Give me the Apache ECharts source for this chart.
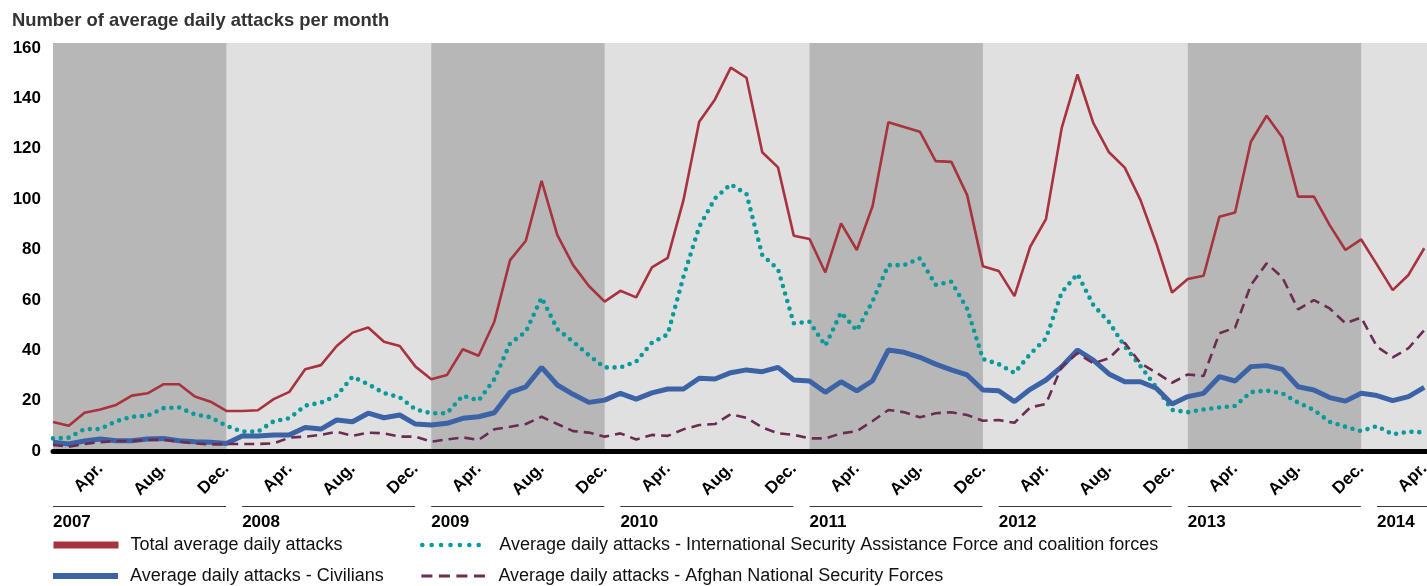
<!DOCTYPE html>
<html>
<head>
<meta charset="utf-8">
<script src="https://cdn.jsdelivr.net/npm/echarts@6/dist/echarts.min.js"></script>
<style>
  html, body { margin: 0; padding: 0; background: #fff; }
  #chart { width: 1427px; height: 586px; }
</style>
</head>
<body>
<div id="chart"></div>
<script>
// ---- Data ----
const titleText = 'Number of average daily attacks per month';
const years = [2007, 2008, 2009, 2010, 2011, 2012, 2013, 2014];
const monthNames = ['Jan', 'Feb', 'Mar', 'Apr', 'May', 'Jun', 'Jul', 'Aug', 'Sep', 'Oct', 'Nov', 'Dec'];
const monthTickLabels = { Apr: 'Apr.', Aug: 'Aug.', Dec: 'Dec.' };
const axisEndMonth = '2014-May';          // axis runs one month past the last data point
const darkBandYears = [2007, 2009, 2011, 2013];
const yTicks = [0, 20, 40, 60, 80, 100, 120, 140, 160];

const seriesNames = [
  'Total average daily attacks',
  'Average daily attacks - International Security Assistance Force and coalition forces',
  'Average daily attacks - Civilians',
  'Average daily attacks - Afghan National Security Forces'
];

// Jan 2007 ... Apr 2014
const totalAttacks = [
  11.5, 10, 15.2, 16.5, 18.3, 22, 22.9, 26.5, 26.5, 21.6, 19.6, 15.9,
  15.9, 16.2, 20.6, 23.5, 32.5, 34.1, 41.7, 47, 49, 43.4, 41.7, 33.5,
  28.5, 30.2, 40.4, 37.8, 51.3, 75.8, 83.5, 107.3, 85.7, 73.8, 65.5, 59.3,
  63.6, 61, 72.9, 76.7, 99.6, 130.7, 139.6, 152.2, 148.2, 118.6, 112.6, 85.5,
  84.2, 70.9, 90.4, 79.8, 97.3, 130.5, 128.6, 126.8, 115.1, 114.8, 101.6, 73.4,
  71.5, 61.5, 81.1, 92.1, 128.3, 149.5, 130.3, 118.6, 112.5, 99.6, 82.4, 62.9,
  68.3, 69.6, 93, 94.7, 122.8, 133.1, 124.5, 101, 101, 89.7, 79.8, 84,
  74, 63.9, 69.9, 80.5
];
const isafAttacks = [
  5, 5.3, 8.7, 8.7, 11.8, 13.6, 14, 17, 17.3, 14.5, 13.4, 10,
  7.7, 7.7, 11.8, 13, 18, 19.2, 22, 29.5, 26.5, 23, 21.3, 16.5,
  15, 15, 22, 20, 28.5, 42.7, 47.4, 60.9, 48.4, 43.4, 38, 33.2,
  33.2, 35.5, 43, 46.3, 69.2, 89, 100.3, 105.9, 102, 77.8, 72.2, 50.7,
  51.3, 41.8, 55, 47.8, 59.5, 73.8, 73.8, 76.5, 66, 67.2, 56.5, 36.5,
  34.5, 31, 38.5, 44.7, 63, 70.3, 58, 51.2, 41.5, 33.7, 25.3, 16.3,
  15.4, 16.5, 17.3, 17.9, 23.4, 24, 22.9, 19.2, 16.3, 11.6, 9.6, 7.9,
  9.9, 6.6, 7.7, 7.4
];
const civilianAttacks = [
  3.5, 2.8, 4, 4.8, 4.1, 4.1, 4.8, 5, 4.1, 3.7, 3.5, 3,
  6, 6, 6.4, 6.4, 9.3, 8.7, 12.3, 11.6, 15, 13.2, 14.3, 10.7,
  10.3, 11, 13, 13.6, 15.2, 23.3, 25.5, 33.2, 26.2, 22.5, 19.3, 20.2,
  22.9, 20.6, 23.1, 24.6, 24.6, 28.9, 28.6, 31.1, 32.2, 31.5, 33.2, 28.2,
  27.8, 23.3, 27.5, 23.9, 27.9, 40.1, 39.2, 37.2, 34.5, 32.2, 30.2, 24.2,
  23.9, 19.6, 24.5, 28.2, 33.5, 40.1, 36.1, 30.6, 27.5, 27.5, 24.9, 18.7,
  21.6, 22.9, 29.5, 27.8, 33.5, 33.9, 32.4, 25.5, 24.2, 21.2, 19.8, 22.9,
  22, 20, 21.6, 25.3
];
const ansfAttacks = [
  2.4, 1.7, 2.8, 3.5, 4, 4, 4.4, 4.4, 3.7, 3, 2.6, 2.8,
  2.8, 2.8, 3, 5.3, 5.7, 6.4, 7.7, 6, 7.3, 7, 5.7, 5.7,
  3.7, 4.6, 5.4, 4.4, 8.6, 9.6, 10.7, 13.6, 10.7, 7.9, 7.3, 5.7,
  7, 4.6, 6.4, 6, 8.6, 10.3, 10.7, 14.6, 13.2, 9.4, 7, 6.4,
  5, 5, 7, 7.9, 11.9, 16.3, 15.4, 13.4, 15, 15.4, 14.3, 12,
  12.3, 11.2, 17.3, 18.7, 33.5, 38.8, 34.8, 36.8, 43, 34.8, 31.1, 27.1,
  30.4, 29.8, 46.7, 49, 65.9, 74.5, 68.9, 56.2, 59.9, 56.6, 50.7, 53,
  41.4, 37.2, 40.8, 48
];

// ---- Build categories ----
const categories = [];
outer:
for (const y of years) {
  for (const m of monthNames) {
    const c = y + '-' + m;
    categories.push(c);
    if (c === axisEndMonth) break outer;
  }
}
const monthOf = c => c.split('-')[1];
const yearOf = c => c.split('-')[0];

const FONT = '"Liberation Sans", Arial, Helvetica, sans-serif';
const C_RED = '#a8323d', C_TEAL = '#089b9b', C_BLUE = '#3b63a6', C_PURPLE = '#6b2c52';

const darkBands = darkBandYears.map(y => [
  { xAxis: y + '-Jan' }, { xAxis: y + '-Dec' }
]);

const chart = echarts.init(document.getElementById('chart'), null, { renderer: 'canvas' });

const legendBase = {
  orient: 'horizontal',
  selectedMode: false,
  padding: 0,
  itemWidth: 65,
  itemHeight: 14,
  itemStyle: { opacity: 0 },
  textStyle: { fontSize: 18, fontFamily: FONT, color: '#111', padding: [0, 0, 0, 7] }
};

chart.setOption({
  animation: false,
  backgroundColor: '#ffffff',
  title: {
    text: titleText,
    left: 12, top: 12, padding: 0,
    textStyle: { fontSize: 18.4, fontWeight: 'bold', fontFamily: FONT, color: '#333' }
  },
  legend: [
    Object.assign({}, legendBase, { data: [seriesNames[0]], left: 50, top: 536, lineStyle: { width: 7 } }),
    Object.assign({}, legendBase, { data: [seriesNames[1]], left: 420, top: 536,
      lineStyle: { width: 4.6, type: [0, 9.4], cap: 'round' } }),
    Object.assign({}, legendBase, { data: [seriesNames[2]], left: 50, top: 567, lineStyle: { width: 6 } }),
    Object.assign({}, legendBase, { data: [seriesNames[3]], left: 420, top: 567,
      lineStyle: { width: 2.8, type: [11, 6.5] } })
  ],
  grid: {
    left: 53, right: -13, top: 43, bottom: 135,
    outerBoundsMode: 'none',
    show: true, backgroundColor: '#e0e0e0', borderWidth: 0
  },
  xAxis: [
    {
      type: 'category', data: categories, boundaryGap: false, position: 'bottom',
      z: 10,
      axisLine: { show: true, lineStyle: { color: '#000', width: 5 } },
      axisTick: { show: false },
      splitLine: { show: false },
      axisLabel: {
        interval: (i, v) => monthTickLabels[monthOf(v)] !== undefined,
        formatter: v => monthTickLabels[monthOf(v)] || '',
        rotate: 45, margin: 15,
        fontSize: 17, fontWeight: 'bold', fontFamily: FONT, color: '#000',
        hideOverlap: false
      }
    },
    {
      type: 'category', data: categories, boundaryGap: false, position: 'bottom', offset: 0,
      axisLine: { show: false }, axisTick: { show: false }, splitLine: { show: false },
      axisLabel: {
        interval: (i, v) => monthOf(v) === 'Jan',
        formatter: v => '{ln|}\n{yr|' + yearOf(v) + '}',
        align: 'left', verticalAlign: 'top', margin: 55,
        hideOverlap: false,
        rich: {
          ln: { width: 173, height: 1, lineHeight: 1, backgroundColor: '#3a3a3a' },
          yr: { fontSize: 17, fontWeight: 'bold', fontFamily: FONT, color: '#000', lineHeight: 30 }
        }
      }
    }
  ],
  yAxis: {
    type: 'value', min: 0, max: 162, interval: 20,
    axisLine: { show: false }, axisTick: { show: false }, splitLine: { show: false },
    axisLabel: {
      margin: 12, fontSize: 17, fontWeight: 'bold', fontFamily: FONT, color: '#000',
      showMaxLabel: false,
      formatter: v => (yTicks.indexOf(v) >= 0 ? String(v) : '')
    }
  },
  series: [
    {
      name: seriesNames[0], type: 'line', data: totalAttacks,
      symbol: 'none', z: 3,
      lineStyle: { color: C_RED, width: 2.6 },
      itemStyle: { color: C_RED },
      markArea: {
        silent: true,
        z: 1,
        itemStyle: { color: '#b7b7b7', opacity: 1 },
        data: darkBands
      }
    },
    {
      name: seriesNames[1], type: 'line', data: isafAttacks,
      symbol: 'none', z: 4,
      lineStyle: { color: C_TEAL, width: 4.6, type: [0, 7.8], cap: 'round' },
      itemStyle: { color: C_TEAL }
    },
    {
      name: seriesNames[2], type: 'line', data: civilianAttacks,
      symbol: 'none', z: 5,
      lineStyle: { color: C_BLUE, width: 5 },
      itemStyle: { color: C_BLUE }
    },
    {
      name: seriesNames[3], type: 'line', data: ansfAttacks,
      symbol: 'none', z: 6,
      lineStyle: { color: C_PURPLE, width: 2.6, type: [10, 6] },
      itemStyle: { color: C_PURPLE }
    }
  ]
});
</script>
</body>
</html>
